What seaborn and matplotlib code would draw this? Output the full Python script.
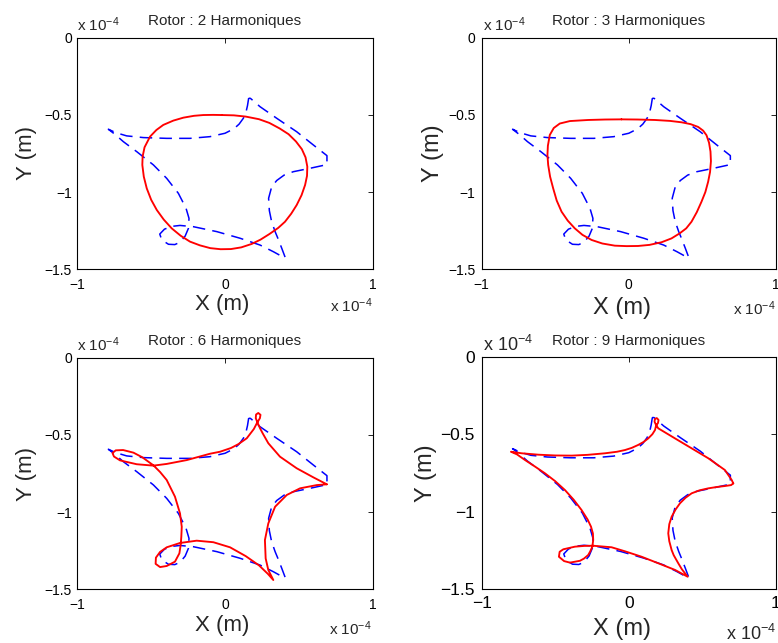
import matplotlib
matplotlib.use("Agg")
import matplotlib.pyplot as plt
import pandas as pd
import seaborn as sns

# ---------------- data (positions in units of 1e-4 m) ----------------
# Reference rotor orbit (blue dashed)
blue_x = [0.160, 0.152, 0.140, 0.124, 0.095, 0.060, 0.000, -0.102, -0.237, -0.395,
          -0.553, -0.666, -0.740, -0.790, -0.740, -0.689, -0.598, -0.485, -0.395, -0.316,
          -0.264, -0.244, -0.248, -0.270, -0.305, -0.340, -0.383, -0.428, -0.442, -0.410,
          -0.360, -0.305, -0.215, -0.056, 0.102, 0.237, 0.327, 0.384, 0.408, 0.384,
          0.358, 0.339, 0.315, 0.300, 0.295, 0.316, 0.350, 0.400, 0.462, 0.575,
          0.690, 0.690, 0.598, 0.485, 0.350, 0.237, 0.172]
blue_y = [-0.392, -0.440, -0.490, -0.522, -0.560, -0.590, -0.619, -0.641, -0.652, -0.652,
          -0.647, -0.636, -0.615, -0.593, -0.630, -0.673, -0.738, -0.824, -0.911, -1.008,
          -1.105, -1.170, -1.235, -1.285, -1.325, -1.340, -1.338, -1.310, -1.272, -1.240,
          -1.222, -1.216, -1.224, -1.256, -1.299, -1.343, -1.386, -1.416, -1.425, -1.364,
          -1.300, -1.256, -1.190, -1.120, -1.040, -0.965, -0.925, -0.890, -0.868, -0.846,
          -0.822, -0.764, -0.695, -0.609, -0.522, -0.447, -0.393]

# 2 harmonics
red2_x = [-0.022, 0.060, 0.140, 0.230, 0.300, 0.370, 0.430, 0.480, 0.520, 0.545,
          0.557, 0.555, 0.542, 0.518, 0.485, 0.448, 0.406, 0.360, 0.300, 0.240,
          0.180, 0.110, 0.040, -0.030, -0.100, -0.170, -0.237, -0.300, -0.361, -0.415,
          -0.462, -0.500, -0.530, -0.550, -0.560, -0.558, -0.545, -0.508, -0.465, -0.418,
          -0.350, -0.282, -0.210, -0.147, -0.080]
red2_y = [-0.501, -0.503, -0.511, -0.528, -0.552, -0.588, -0.625, -0.672, -0.722, -0.775,
          -0.835, -0.895, -0.954, -1.020, -1.084, -1.140, -1.192, -1.232, -1.272, -1.308,
          -1.336, -1.358, -1.369, -1.370, -1.363, -1.345, -1.321, -1.283, -1.235, -1.178,
          -1.116, -1.050, -0.976, -0.900, -0.824, -0.770, -0.710, -0.641, -0.598, -0.565,
          -0.537, -0.518, -0.506, -0.501, -0.500]

# 3 harmonics
red3_x = [-0.050, 0.060, 0.177, 0.280, 0.358, 0.420, 0.471, 0.505, 0.528, 0.545,
          0.555, 0.558, 0.552, 0.539, 0.520, 0.494, 0.462, 0.426, 0.390, 0.346,
          0.290, 0.222, 0.140, 0.063, -0.015, -0.095, -0.180, -0.253, -0.315, -0.367,
          -0.415, -0.457, -0.490, -0.514, -0.535, -0.548, -0.553, -0.550, -0.537, -0.510,
          -0.469, -0.400, -0.276, -0.160]
red3_y = [-0.529, -0.530, -0.533, -0.539, -0.548, -0.560, -0.578, -0.602, -0.632, -0.680,
          -0.738, -0.800, -0.870, -0.933, -1.000, -1.062, -1.130, -1.192, -1.235, -1.267,
          -1.300, -1.325, -1.342, -1.349, -1.350, -1.347, -1.333, -1.310, -1.277, -1.235,
          -1.185, -1.127, -1.055, -0.976, -0.900, -0.824, -0.760, -0.700, -0.630, -0.585,
          -0.556, -0.540, -0.533, -0.530]

# 6 harmonics
red6_x = [0.689, 0.598, 0.485, 0.372, 0.293, 0.255, 0.237, 0.222, 0.208, 0.210,
          0.225, 0.240, 0.236, 0.215, 0.195, 0.147, 0.090, 0.040, -0.034, -0.102,
          -0.259, -0.395, -0.485, -0.598, -0.711, -0.752, -0.762, -0.740, -0.690, -0.620,
          -0.560, -0.485, -0.440, -0.395, -0.339, -0.305, -0.293, -0.296, -0.300, -0.309,
          -0.339, -0.395, -0.440, -0.470, -0.468, -0.440, -0.395, -0.305, -0.192, -0.079,
          0.034, 0.140, 0.230, 0.290, 0.327, 0.293, 0.275, 0.270, 0.293, 0.339,
          0.418, 0.508, 0.621]
red6_y = [-0.820, -0.775, -0.716, -0.641, -0.554, -0.490, -0.457, -0.425, -0.392, -0.368,
          -0.358, -0.370, -0.392, -0.425, -0.462, -0.522, -0.560, -0.585, -0.609, -0.622,
          -0.663, -0.688, -0.699, -0.690, -0.665, -0.640, -0.617, -0.600, -0.598, -0.615,
          -0.645, -0.697, -0.740, -0.792, -0.900, -1.008, -1.095, -1.160, -1.210, -1.267,
          -1.321, -1.349, -1.356, -1.335, -1.295, -1.258, -1.228, -1.200, -1.185, -1.195,
          -1.228, -1.285, -1.345, -1.400, -1.440, -1.375, -1.300, -1.181, -1.073, -0.965,
          -0.889, -0.846, -0.825]

# 9 harmonics
red9_x = [0.710, 0.699, 0.653, 0.540, 0.427, 0.314, 0.200, 0.185, 0.175, 0.177,
          0.190, 0.202, 0.198, 0.185, 0.178, 0.160, 0.132, 0.100, 0.064, 0.020,
          -0.026, -0.080, -0.162, -0.280, -0.388, -0.500, -0.615, -0.728, -0.801, -0.760,
          -0.706, -0.640, -0.570, -0.500, -0.434, -0.375, -0.321, -0.280, -0.257, -0.244,
          -0.242, -0.248, -0.262, -0.276, -0.305, -0.332, -0.400, -0.440, -0.475, -0.470,
          -0.445, -0.366, -0.300, -0.242, -0.117, -0.026, 0.087, 0.200, 0.314, 0.400,
          0.360, 0.336, 0.305, 0.291, 0.275, 0.268, 0.275, 0.291, 0.318, 0.348,
          0.385, 0.427, 0.480, 0.540, 0.600, 0.653, 0.695]
red9_y = [-0.817, -0.795, -0.731, -0.655, -0.591, -0.527, -0.462, -0.440, -0.420, -0.402,
          -0.396, -0.408, -0.428, -0.445, -0.473, -0.500, -0.527, -0.550, -0.569, -0.588,
          -0.602, -0.613, -0.623, -0.633, -0.638, -0.637, -0.632, -0.623, -0.613, -0.630,
          -0.666, -0.707, -0.752, -0.803, -0.860, -0.922, -0.989, -1.050, -1.096, -1.140,
          -1.182, -1.225, -1.255, -1.279, -1.302, -1.316, -1.328, -1.318, -1.290, -1.258,
          -1.242, -1.225, -1.220, -1.219, -1.229, -1.255, -1.290, -1.332, -1.375, -1.419,
          -1.370, -1.332, -1.280, -1.247, -1.190, -1.139, -1.080, -1.032, -0.985, -0.945,
          -0.910, -0.881, -0.862, -0.849, -0.840, -0.834, -0.828]

titles = ["Rotor : 2 Harmoniques", "Rotor : 3 Harmoniques",
          "Rotor : 6 Harmoniques", "Rotor : 9 Harmoniques"]
x_ticks = [-1, 0, 1]
x_ticklabels = ["\u22121", "0", "1"]
y_ticks = [0, -0.5, -1, -1.5]
y_ticklabels = ["0", "\u22120.5", "\u22121", "\u22121.5"]
x_label = "X (m)"
y_label = "Y (m)"
exponent_text = "x 10$^{-4}$"

# ---------------- styling ----------------
sns.set_style("white")
plt.rcParams["font.family"] = ["Liberation Sans", "DejaVu Sans"]
plt.rcParams["mathtext.fontset"] = "custom"
plt.rcParams["mathtext.rm"] = "Liberation Sans"
plt.rcParams["mathtext.it"] = "Liberation Sans:italic"
plt.rcParams["mathtext.bf"] = "Liberation Sans:bold"
plt.rcParams["axes.unicode_minus"] = True

BLUE_LW = 1.1
BLUE_DASH = (0, (9.0 / BLUE_LW, 5.2 / BLUE_LW))


def closed_frame(xs, ys):
    xs = list(xs) + [xs[0]]
    ys = list(ys) + [ys[0]]
    return pd.DataFrame({"x": xs, "y": ys})


blue_df = closed_frame(blue_x, blue_y)

panels = [
    dict(rect=[0.0994, 0.5812, 0.3797, 0.3602], red=(red2_x, red2_y), title=titles[0],
         tick_fs=10, lab_fs=16, exp_fs=11, tpad=8.8, xpad=6, ypad=4,
         xlab=(0.49, -0.175), ylab=(-0.154, 0.5), exp_top=(0.0, 1.029), exp_bot=(1.0, -0.185)),
    dict(rect=[0.6191, 0.5812, 0.3783, 0.3602], red=(red3_x, red3_y), title=titles[1],
         tick_fs=10, lab_fs=17, exp_fs=11, tpad=9.1, xpad=6, ypad=4.5,
         xlab=(0.477, -0.193), ylab=(-0.144, 0.5), exp_top=(0.003, 1.029), exp_bot=(1.0, -0.197)),
    dict(rect=[0.0994, 0.0835, 0.3797, 0.3602], red=(red6_x, red6_y), title=titles[2],
         tick_fs=10, lab_fs=16, exp_fs=11, tpad=9.1, xpad=6, ypad=4,
         xlab=(0.49, -0.181), ylab=(-0.154, 0.5), exp_top=(0.0, 1.030), exp_bot=(0.997, -0.197)),
    dict(rect=[0.6191, 0.0835, 0.3783, 0.3618], red=(red9_x, red9_y), title=titles[3],
         tick_fs=12.5, lab_fs=17, exp_fs=13, tpad=8.4, xpad=5, ypad=4.8,
         xlab=(0.477, -0.196), ylab=(-0.170, 0.5), exp_top=(0.003, 1.026), exp_bot=(1.0, -0.218)),
]

fig = plt.figure(figsize=(7.78, 6.43), dpi=100)

for p in panels:
    ax = fig.add_axes(p["rect"])
    sns.lineplot(data=blue_df, x="x", y="y", sort=False, estimator=None, ax=ax,
                 color="#0000FF", linewidth=BLUE_LW, linestyle=BLUE_DASH)
    sns.lineplot(data=closed_frame(*p["red"]), x="x", y="y", sort=False, estimator=None,
                 ax=ax, color="#FF0000", linewidth=1.35)

    ax.set_xlim(-1, 1)
    ax.set_ylim(-1.5, 0)
    ax.set_xticks(x_ticks)
    ax.set_xticklabels(x_ticklabels)
    ax.set_yticks(y_ticks)
    ax.set_yticklabels(y_ticklabels)
    ax.tick_params(axis="both", which="both", direction="in", length=3.5, width=0.6,
                   top=True, right=True, labelsize=p["tick_fs"], colors="black")
    ax.tick_params(axis="x", pad=p["xpad"])
    ax.tick_params(axis="y", pad=p["ypad"])
    for s in ax.spines.values():
        s.set_visible(True)
        s.set_color("black")
        s.set_linewidth(0.8)

    ax.set_title(p["title"], fontsize=11, y=1.0, pad=p["tpad"])

    ax.set_xlabel(x_label, fontsize=p["lab_fs"])
    ax.xaxis.label.set_va("baseline")
    ax.xaxis.set_label_coords(*p["xlab"])
    ax.set_ylabel(y_label, fontsize=p["lab_fs"])
    ax.yaxis.label.set_va("baseline")
    ax.yaxis.set_label_coords(*p["ylab"])

    ax.text(p["exp_top"][0], p["exp_top"][1], exponent_text, transform=ax.transAxes,
            ha="left", va="baseline", fontsize=p["exp_fs"])
    ax.text(p["exp_bot"][0], p["exp_bot"][1], exponent_text, transform=ax.transAxes,
            ha="right", va="baseline", fontsize=p["exp_fs"])

fig.savefig("out.png", dpi=100)
